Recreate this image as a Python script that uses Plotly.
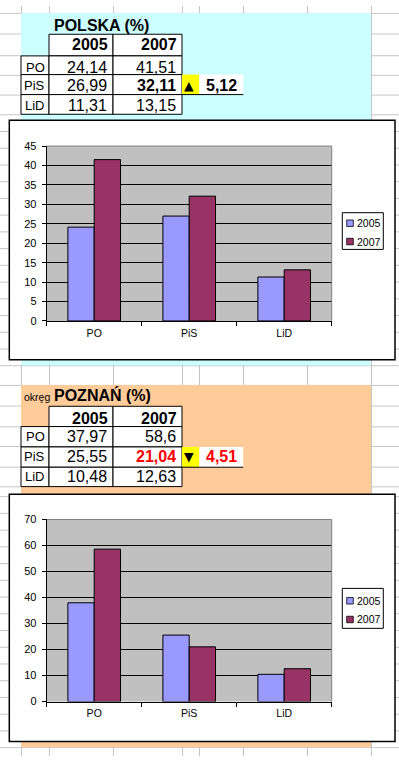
import plotly.graph_objects as go

# ---------------- data ----------------
parties = ["PO", "PiS", "LiD"]
years = ["2005", "2007"]
polska_2005 = [24.14, 26.99, 11.31]
polska_2007 = [41.51, 32.11, 13.15]
poznan_2005 = [37.97, 25.55, 10.48]
poznan_2007 = [58.6, 21.04, 12.63]
pis_change = [5.12, -4.51]
titles = ["POLSKA (%)", "POZNAŃ (%)"]
title_prefix = ["", "okręg"]
y_max = [45, 70]
y_step = [5, 10]

series = [(polska_2005, polska_2007), (poznan_2005, poznan_2007)]
bar_colors = ["#9999FF", "#993366"]

# ---------------- layout geometry (pixels) ----------------
W, H = 399, 762
FONT = "Arial, Liberation Sans, sans-serif"


def X(px):
    return px / W


def Y(py):
    return 1 - py / H


sections = [
    dict(bg="#CCFFFF", region=(21, 7, 371, 365), title_y=19.5,
         rows=[28.7, 50.7, 69.7, 90, 110], text_y=[39.2, 62, 81, 101.5],
         box=(9.3, 116, 395, 359.3), plot=(46.7, 142.3, 331.7, 320),
         legend=(342.3, 210, 383.3, 247.3), items=[220.7, 239.3]),
    dict(bg="#FFCC99", region=(21, 385, 371, 753), title_y=395.5,
         rows=[406.7, 427.3, 448, 468.6, 488.3], text_y=[418.8, 437.8, 458, 477.8],
         box=(9.3, 496, 395, 747.3), plot=(46.7, 521.7, 331.7, 706.7),
         legend=(342.3, 591.7, 383.3, 632.3), items=[604.3, 623.3]),
]
colA, colB, colC, colD, colE = (21, 49), (49, 113), (113, 182), (182, 199.3), (199.3, 243.3)

shapes = []
annotations = []


def rect(x0, y0, x1, y1, fill, line=None, width=1, layer="below"):
    shapes.append(dict(type="rect", xref="paper", yref="paper",
                       x0=X(x0), x1=X(x1), y0=Y(y1), y1=Y(y0),
                       fillcolor=fill, layer=layer,
                       line=dict(color=line if line else "rgba(0,0,0,0)", width=width if line else 0)))


def hline(y, x0, x1, color, width=1):
    shapes.append(dict(type="line", xref="paper", yref="paper", x0=X(x0), x1=X(x1),
                       y0=Y(y), y1=Y(y), layer="below", line=dict(color=color, width=width)))


def vline(x, y0, y1, color, width=1):
    shapes.append(dict(type="line", xref="paper", yref="paper", x0=X(x), x1=X(x),
                       y0=Y(y0), y1=Y(y1), layer="below", line=dict(color=color, width=width)))


def text(s, x, y, size, xanchor="right", bold=False, color="black", family=FONT):
    if bold:
        s = "<b>" + s + "</b>"
    annotations.append(dict(text=s, x=X(x), y=Y(y), xref="paper", yref="paper",
                            xanchor=xanchor, yanchor="middle", showarrow=False,
                            font=dict(size=size, color=color, family=family)))


def fmt(v):
    return str(v).replace(".", ",")


# spreadsheet gridlines
GRID = "#C6C6C6"
vgrid = [21, 49, 113, 182, 199, 243, 307, 371]
hgrid = [7, 28.5, 50, 70, 90, 110] + [110 + 17 * k for k in range(1, 15)] + \
        [365, 385, 406.5, 427, 447.5, 468, 488] + [753 - 17 * k for k in range(0, 16)]
for x in vgrid:
    vline(int(x) + 0.5, 0, H, GRID)
for y in hgrid:
    hline(int(y) + 0.5, 0, W, GRID)

layout_axes = {}
for i, sec in enumerate(sections):
    rx0, ry0, rx1, ry1 = sec["region"]
    rect(rx0, ry0, rx1, ry1, sec["bg"])

    # title
    if title_prefix[i]:
        text(title_prefix[i], 21.5, sec["title_y"] + 1.5, 10.5, xanchor="left")
    text(titles[i], 52, sec["title_y"], 16, xanchor="left", bold=True)

    rows = sec["rows"]
    ty = sec["text_y"]
    a05, a07 = series[i]
    # header
    for (cx0, cx1), lab in zip([colB, colC], years):
        rect(cx0, rows[0], cx1, rows[1], "white", "black", 1)
        text(lab, cx1 - 3.5, ty[0], 16, bold=True)
    # body
    for r, party in enumerate(parties):
        y0, y1 = rows[r + 1], rows[r + 2]
        for (cx0, cx1) in [colA, colB, colC]:
            rect(cx0, y0, cx1, y1, "white", "black", 1)
        text(party, colA[1] - 2, ty[r + 1], 13)
        text(fmt(a05[r]), colB[1] - 4.5, ty[r + 1], 16)
        is_pis = party == "PiS"
        ch = pis_change[i]
        col07 = "#FF0000" if (is_pis and ch < 0) else "black"
        text(fmt(a07[r]), colC[1] - 4, ty[r + 1], 16, bold=is_pis, color=col07)
        if is_pis:
            rect(colD[0], y0, colD[1], y1, "#FFFF00")
            rect(colE[0], y0, colE[1], y1, "white")
            hline(y1, colD[0], colE[1], "black", 1)
            arrow = "▲" if ch > 0 else "▼"
            text(arrow, (colD[0] + colD[1]) / 2 - 1.5, ty[r + 1], 12.5, xanchor="center",
                 family="DejaVu Sans")
            text(f"{abs(ch):.2f}".replace(".", ","), (colE[0] + colE[1]) / 2 + 0.5, ty[r + 1], 16,
                 xanchor="center", bold=True, color="#FF0000" if ch < 0 else "black")

    # chart area
    bx0, by0, bx1, by1 = sec["box"]
    rect(bx0, by0, bx1, by1, "white", "black", 1.5)
    px0, py0, px1, py1 = sec["plot"]
    rect(px0, py0, px1, py1, "#C0C0C0")
    # plot-area border (top & right) in gray, above
    shapes.append(dict(type="path", xref="paper", yref="paper", layer="above",
                       path=f"M {X(px0)},{Y(py0)} L {X(px1)},{Y(py0)} L {X(px1)},{Y(py1)}",
                       line=dict(color="#808080", width=1)))

    # legend (drawn)
    lx0, ly0, lx1, ly1 = sec["legend"]
    rect(lx0, ly0, lx1, ly1, "white", "black", 1)
    for yy, lab, c in zip(sec["items"], years, bar_colors):
        rect(346.7, yy - 3.3, 353.3, yy + 3.3, c, "black", 0.8)
        text(lab, 354.5, yy, 10.5, xanchor="left")

    # axes
    sfx = "" if i == 0 else str(i + 1)
    layout_axes["xaxis" + sfx] = dict(
        domain=[X(px0), X(px1)], anchor="y" + sfx, type="category",
        tickson="boundaries", ticks="outside", ticklen=4, tickcolor="black",
        showline=True, linecolor="black", linewidth=1, showgrid=False,
        tickfont=dict(size=10.5, family=FONT, color="black"), ticklabelstandoff=2,
        fixedrange=True)
    layout_axes["yaxis" + sfx] = dict(
        domain=[Y(py1), Y(py0)], anchor="x" + sfx, range=[0, y_max[i]], dtick=y_step[i],
        ticks="outside", ticklen=4, tickcolor="black", showline=True, linecolor="black",
        linewidth=1, showgrid=True, gridcolor="black", gridwidth=1, zeroline=False,
        tickfont=dict(size=11, family=FONT, color="black"), ticklabelstandoff=3,
        fixedrange=True)

    fig_traces = []
    for vals, yr, c in zip(series[i], years, bar_colors):
        fig_traces.append(go.Bar(x=parties, y=vals, name=yr, xaxis="x" + sfx, yaxis="y" + sfx,
                                 marker=dict(color=c, line=dict(color="black", width=1)),
                                 showlegend=False, hoverinfo="skip"))
    sec["traces"] = fig_traces

fig = go.Figure()
for sec in sections:
    for t in sec["traces"]:
        fig.add_trace(t)

fig.update_layout(
    width=W, height=H, margin=dict(l=0, r=0, t=0, b=0),
    paper_bgcolor="white", plot_bgcolor="rgba(0,0,0,0)",
    barmode="group", bargap=0.446, bargroupgap=0,
    shapes=shapes, annotations=annotations,
    font=dict(family=FONT, color="black"),
    **layout_axes,
)

fig.write_html("out.html", config={"displayModeBar": False},
               post_script="document.body.style.margin='0';document.body.style.overflow='hidden';")
